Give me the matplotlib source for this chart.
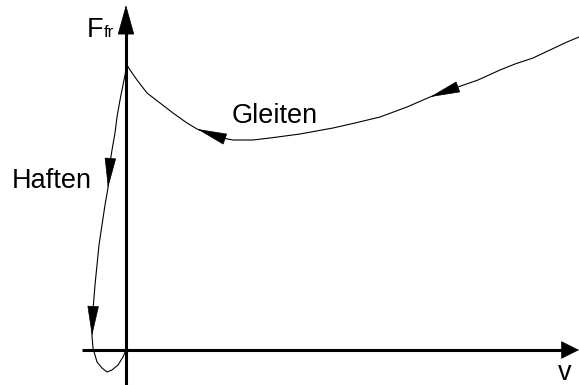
import matplotlib

matplotlib.use("Agg")
import matplotlib.pyplot as plt

plt.rcParams["font.family"] = ["Liberation Sans", "DejaVu Sans"]

# Gleiten branch (from high speed down to v = 0)
gleiten_v = [4.53, 4.41, 4.24, 4.07, 3.89, 3.74, 3.52, 3.29, 3.04, 2.81,
             2.54, 2.29, 2.07, 1.74, 1.44, 1.27, 1.07, 0.96, 0.71, 0.61,
             0.47, 0.34, 0.21, 0.11, 0.04, 0.01]
gleiten_f = [3.13, 3.08, 3.00, 2.92, 2.86, 2.80, 2.70, 2.62, 2.53, 2.43,
             2.33, 2.27, 2.22, 2.16, 2.12, 2.10, 2.10, 2.12, 2.21, 2.27,
             2.37, 2.47, 2.57, 2.70, 2.80, 2.85]

# Haften branch (sticking, F drops through zero)
haften_v = [0.01, -0.01, -0.04, -0.06, -0.09, -0.11, -0.14, -0.16, -0.18,
            -0.21, -0.24, -0.27, -0.29, -0.31, -0.33, -0.34, -0.33, -0.29,
            -0.24, -0.19, -0.14, -0.08, -0.03, 0.00]
haften_f = [2.85, 2.75, 2.60, 2.50, 2.33, 2.17, 2.00, 1.87, 1.62,
            1.45, 1.25, 1.05, 0.85, 0.65, 0.40, 0.14, 0.02, -0.12,
            -0.18, -0.22, -0.20, -0.15, -0.07, 0.00]

# arrow positions on the curve: (branch, base index, tip index)
curve_arrows = [("g", 7, 8), ("g", 17, 18), ("h", 7, 8), ("h", 14, 15)]

x_range = (-1.26, 4.53)
y_range = (-0.35, 3.50)


def head(ax, base, tip, length=20, width=0.19, lw=0.5):
    ax.annotate("", xy=tip, xytext=base,
                arrowprops=dict(arrowstyle=f"-|>,head_length=1,head_width={width}",
                                mutation_scale=length, color="black", lw=lw,
                                shrinkA=0, shrinkB=0, joinstyle="miter"))


fig = plt.figure(figsize=(5.79, 3.85), dpi=100)
ax = fig.add_axes([0, 0, 1, 1])
ax.set_xlim(*x_range)
ax.set_ylim(*y_range)
ax.axis("off")

# coordinate axes with arrowheads
ax.plot([0, 0], [y_range[0], 3.30], color="black", lw=2.2, solid_capstyle="butt")
ax.plot([-0.44, 4.40], [0, 0], color="black", lw=2.2, solid_capstyle="butt")
head(ax, (0, 3.25), (0, 3.45), length=20, width=0.28)
head(ax, (4.36, 0), (4.53, 0), length=12, width=0.5)

# friction curve
ax.plot(gleiten_v, gleiten_f, color="black", lw=0.8)
ax.plot(haften_v, haften_f, color="black", lw=0.8)

for branch, i, j in curve_arrows:
    vv, ff = (gleiten_v, gleiten_f) if branch == "g" else (haften_v, haften_f)
    head(ax, (vv[i], ff[i]), (vv[j], ff[j]))

ax.text(-0.23, 3.13, "F", fontsize=19.5, ha="right", va="baseline")
ax.text(-0.22, 3.13, "fr", fontsize=12, ha="left", va="baseline")
ax.text(1.06, 2.27, "Gleiten", fontsize=19.5, ha="left", va="baseline")
ax.text(-1.14, 1.62, "Haften", fontsize=19.5, ha="left", va="baseline")
ax.text(4.39, -0.30, "v", fontsize=19.5, ha="center", va="baseline")

fig.savefig("out.png", dpi=100)
